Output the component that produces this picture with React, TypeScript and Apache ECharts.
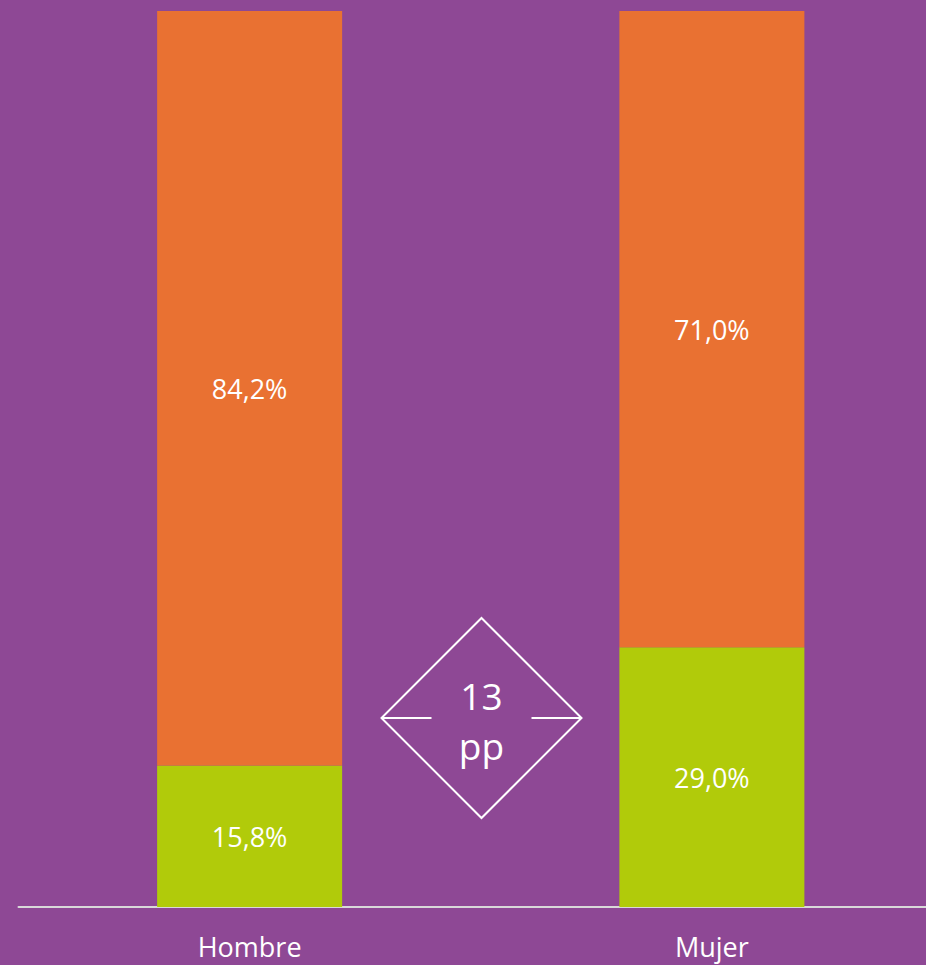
import React, { useEffect, useRef } from "react";
import * as echarts from "echarts";

const categories = ["Hombre", "Mujer"];
const greenValues = [15.8, 29.0];
const orangeValues = [84.2, 71.0];
const gapLabel = ["13", "pp"];

const fmt = (v: number) => v.toFixed(1).replace(".", ",") + "%";

export default function App() {
  const ref = useRef<HTMLDivElement>(null);
  useEffect(() => {
    document.body.style.margin = "0";
    const chart = echarts.init(ref.current!, null, { renderer: "svg" });
    const font = "'Open Sans', 'Noto Sans', sans-serif";
    const cx = 481.5;
    const cy = 718;
    const r = 100;
    chart.setOption({
      animation: false,
      backgroundColor: "#8E4895",
      grid: { left: 18.5, top: 11, right: 0, height: 896, containLabel: false },
      xAxis: {
        type: "category",
        data: categories,
        axisLine: { show: true, lineStyle: { color: "#D9D9D9", width: 2 } },
        axisTick: { show: false },
        axisLabel: { color: "#FFFFFF", fontSize: 27, fontFamily: font, margin: 26 },
      },
      yAxis: { type: "value", min: 0, max: 100, show: false },
      series: [
        {
          type: "bar",
          stack: "a",
          data: greenValues,
          barWidth: 185,
          itemStyle: { color: "#B1CB0A" },
          label: {
            show: true,
            position: "inside",
            color: "#FFFFFF",
            fontSize: 27,
            fontFamily: font,
            formatter: (p: any) => fmt(p.value),
          },
        },
        {
          type: "bar",
          stack: "a",
          data: orangeValues,
          barWidth: 185,
          itemStyle: { color: "#E97132" },
          label: {
            show: true,
            position: "inside",
            color: "#FFFFFF",
            fontSize: 27,
            fontFamily: font,
            formatter: (p: any) => fmt(p.value),
          },
        },
      ],
      graphic: [
        {
          type: "polygon",
          shape: {
            points: [
              [cx, cy - r],
              [cx + r, cy],
              [cx, cy + r],
              [cx - r, cy],
            ],
          },
          style: { fill: "none", stroke: "#FFFFFF", lineWidth: 2 },
        },
        {
          type: "line",
          shape: { x1: cx - r, y1: cy, x2: cx - 50, y2: cy },
          style: { stroke: "#FFFFFF", lineWidth: 2 },
        },
        {
          type: "line",
          shape: { x1: cx + 50, y1: cy, x2: cx + r, y2: cy },
          style: { stroke: "#FFFFFF", lineWidth: 2 },
        },
        {
          type: "text",
          x: cx,
          y: 695,
          style: {
            text: gapLabel[0],
            fill: "#FFFFFF",
            font: `37px ${font}`,
            align: "center",
            verticalAlign: "middle",
          },
        },
        {
          type: "text",
          x: cx,
          y: 745,
          style: {
            text: gapLabel[1],
            fill: "#FFFFFF",
            font: `37px ${font}`,
            align: "center",
            verticalAlign: "middle",
          },
        },
      ],
    });
    return () => chart.dispose();
  }, []);
  return (
    <div style={{ width: 926, height: 965, overflow: "hidden" }}>
      <div ref={ref} style={{ width: 943, height: 965 }} />
    </div>
  );
}
